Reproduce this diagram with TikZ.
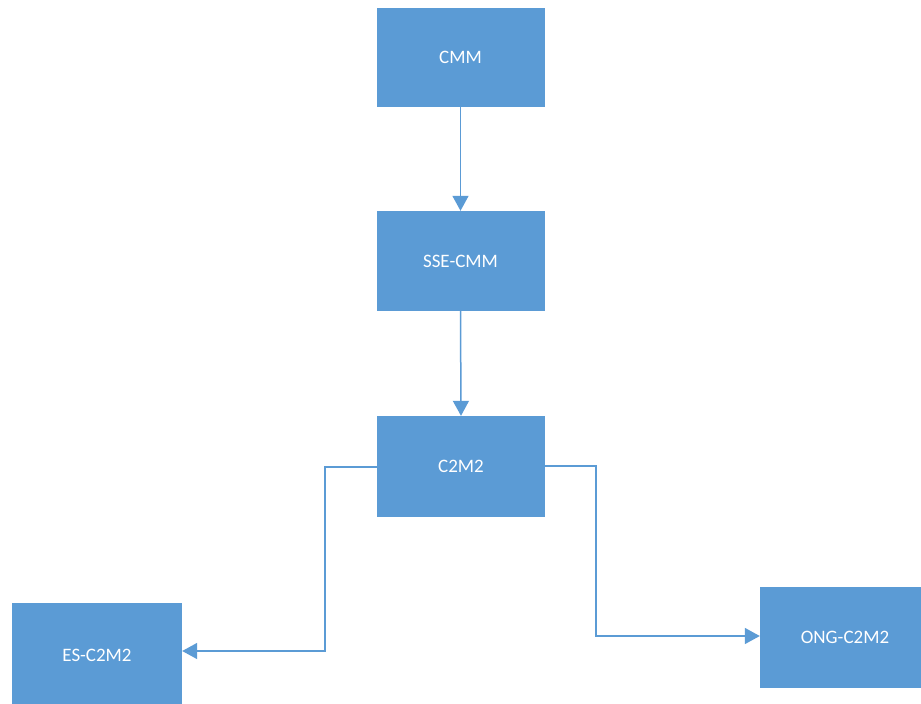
\documentclass[tikz,border=0pt]{standalone}
\usepackage{fontspec}
\setmainfont{Carlito}
\usetikzlibrary{arrows.meta}
\definecolor{boxblue}{HTML}{5B9BD5}
\definecolor{lineblue}{HTML}{5B9BD5}
\begin{document}
\begin{tikzpicture}[x=1pt,y=-1pt,
  blk/.style={fill=boxblue,draw=none,text=white,font=\fontsize{19}{22}\selectfont,inner sep=0pt},
  conn/.style={draw=lineblue,line width=1.5pt,-{Triangle[width=16pt,length=15pt]}}]
\useasboundingbox (0,0) rectangle (921,704);
\clip (0,0) rectangle (921,704);
\fill[white] (0,0) rectangle (921,704);
\node[blk,minimum width=168pt,minimum height=99pt] (cmm) at (460.5,57.5) {CMM};
\node[blk,minimum width=168pt,minimum height=100pt] (sse) at (460.5,261) {SSE-CMM};
\node[blk,minimum width=168pt,minimum height=101pt] (c2m2) at (461,466.5) {C2M2};
\node[blk,minimum width=170pt,minimum height=104pt] (es) at (97,655) {ES-C2M2};
\node[blk,minimum width=170pt,minimum height=101pt] (ong) at (845,637) {ONG-C2M2};
\coordinate (l1) at (325,467);
\coordinate (l2) at (325,651);
\coordinate (r1) at (596,466);
\coordinate (r2) at (596,636);
\draw[conn] (cmm.south) -- (sse.north);
\draw[conn] (sse.south) -- (c2m2.north);
\draw[conn] (c2m2.west |- l1) -- (l1) -- (l2) -- (es.east |- l2);
\draw[conn] (c2m2.east |- r1) -- (r1) -- (r2) -- (ong.west |- r2);
\end{tikzpicture}
\end{document}
